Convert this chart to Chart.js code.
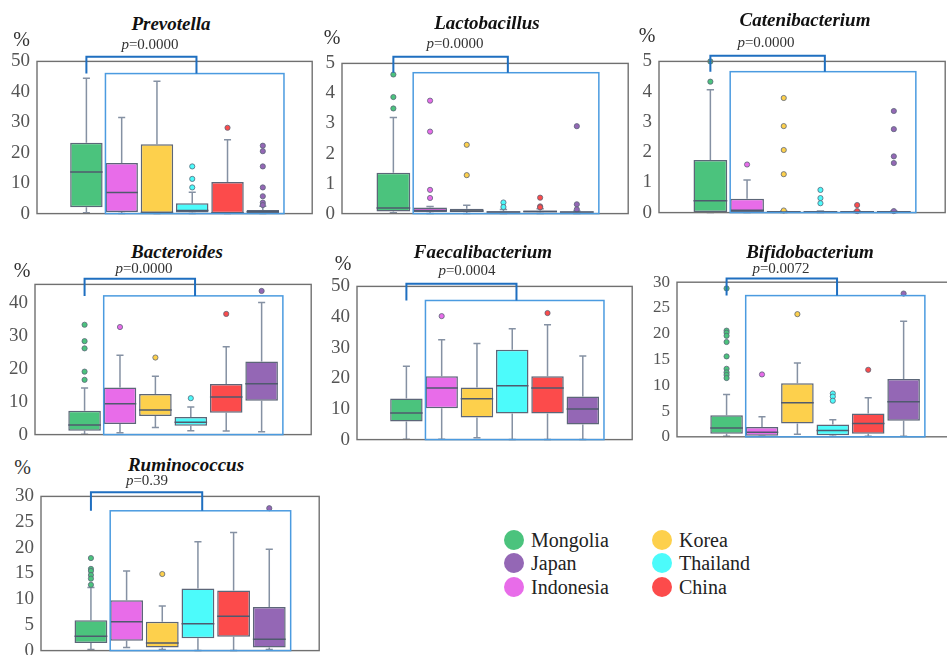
<!DOCTYPE html>
<html>
<head>
<meta charset="utf-8">
<script src="https://cdn.jsdelivr.net/npm/chart.js@4.4.0/dist/chart.umd.min.js"></script>
<style>
  body { margin: 0; width: 947px; height: 655px; overflow: hidden; background: #fff; position: relative; font-family: 'Liberation Serif', 'DejaVu Serif', serif; }
  canvas { position: absolute; }
  .t { position: absolute; transform: translate(-50%, -50%); white-space: nowrap; line-height: 1; }
  .title { font-weight: bold; font-style: italic; font-size: 19px; color: #111; }
  .pct { font-size: 20px; color: #333; }
  .pv { font-size: 15px; color: #333; }
  .leg { position: absolute; display: flex; align-items: center; font-size: 20px; color: #222; line-height: 1; transform: translateY(-50%); }
  .dot { width: 20px; height: 20px; border-radius: 50%; margin-right: 7px; }
</style>
</head>
<body>
<script>
const countries = ['Mongolia', 'Indonesia', 'Korea', 'Thailand', 'China', 'Japan'];
const genera = ['Prevotella', 'Lactobacillus', 'Catenibacterium', 'Bacteroides', 'Faecalibacterium', 'Bifidobacterium', 'Ruminococcus'];
const pValues = ['0.0000', '0.0000', '0.0000', '0.0000', '0.0004', '0.0072', '0.39'];

// rows: [lower whisker, Q1, median, Q3, upper whisker] in %, one per country
const prevotellaBox = [[0.3, 2.1, 13.7, 23.3, 44.5], [0, 0.5, 6.9, 16.6, 31.6], [0, 0.2, 0.4, 22.8, 43.5], [0, 0.4, 1.0, 3.4, 7.0], [0, 0.1, 0.3, 10.4, 24.3], [0, 0.2, 0.6, 1.2, 2.4]];
const prevotellaOut = [[], [], [], [15.5, 11.4, 8.6], [28.2], [22.3, 20.5, 15.5, 8.6, 5.7, 3.6, 2.8]];
const prevotellaTicks = [0, 10, 20, 30, 40, 50];

const lactobacillusBox = [[0.03, 0.07, 0.19, 1.36, 3.2], [0, 0.05, 0.1, 0.2, 0.24], [0, 0.05, 0.09, 0.16, 0.28], [0, 0.03, 0.05, 0.08, 0.14], [0, 0.04, 0.07, 0.1, 0.16], [0, 0.03, 0.05, 0.07, 0.09]];
const lactobacillusOut = [[4.63, 3.88, 3.5], [3.76, 2.73, 0.79, 0.52], [2.29, 1.28], [0.37, 0.22], [0.53, 0.24, 0.21], [2.91, 0.31, 0.14]];
const lactobacillusTicks = [0, 1, 2, 3, 4, 5];

const catenibacteriumBox = [[0, 0.02, 0.39, 1.74, 4.06], [0, 0.02, 0.08, 0.46, 1.08], [0, 0, 0.02, 0.05, 0.05], [0, 0, 0.02, 0.05, 0.05], [0, 0, 0.02, 0.05, 0.05], [0, 0, 0.02, 0.05, 0.05]];
const catenibacteriumOut = [[5.0, 4.33], [1.59], [3.79, 2.86, 2.07, 1.27, 0.07], [0.75, 0.48, 0.31], [0.25, 0.05], [3.36, 2.76, 1.86, 1.64, 0.05]];
const catenibacteriumTicks = [0, 1, 2, 3, 4, 5];

const bacteroidesBox = [[0.1, 1.2, 2.9, 7.3, 14.2], [0.6, 3.2, 9.4, 14.4, 24.2], [2.2, 5.7, 7.5, 12.4, 17.8], [1.2, 2.7, 3.8, 5.4, 8.4], [1.1, 6.7, 11.5, 15.4, 26.8], [0.9, 10.3, 15.5, 22.3, 40.3]];
const bacteroidesOut = [[33.5, 28.5, 26.3, 19.2, 16.7], [32.8], [23.5], [11.1], [36.8], [43.8]];
const bacteroidesTicks = [0, 10, 20, 30, 40];

const faecalibacteriumBox = [[0.1, 5.9, 8.7, 13.4, 23.9], [0.1, 10.2, 16.8, 20.7, 32.6], [0.6, 7.2, 13.3, 17.0, 31.4], [0, 8.5, 17.6, 29.3, 36.2], [0, 8.5, 16.8, 20.7, 37.5], [0, 4.9, 10.0, 14.1, 27.3]];
const faecalibacteriumOut = [[], [40.3], [], [], [41.3], []];
const faecalibacteriumTicks = [0, 10, 20, 30, 40, 50];

const bifidobacteriumBox = [[0.1, 0.6, 1.7, 4.2, 8.2], [0.1, 0.2, 0.9, 1.9, 3.9], [0.5, 2.6, 6.6, 10.4, 14.3], [0.1, 0.3, 1.2, 2.4, 3.3], [0.1, 0.6, 2.6, 4.5, 7.6], [0.1, 3.1, 6.8, 11.2, 22.4]];
const bifidobacteriumOut = [[28.8, 20.6, 20.2, 19.6, 18.4, 15.6, 13.2, 12.5, 12.0, 11.4], [12.1], [23.8], [8.4, 7.8, 7.0], [13.0], [27.8]];
const bifidobacteriumTicks = [0, 5, 10, 15, 20, 25, 30];

const ruminococcusBox = [[0.2, 1.5, 2.8, 5.9, 12.3], [0.6, 1.9, 5.6, 9.8, 15.5], [0.2, 0.6, 1.5, 5.6, 8.7], [0, 2.4, 5.2, 12.1, 21.2], [0, 2.7, 6.7, 11.7, 23.0], [0.2, 0.6, 2.2, 8.5, 19.7]];
const ruminococcusOut = [[18.0, 15.9, 15.5, 14.7, 14.0, 12.8], [], [14.9], [], [], [27.7]];
const ruminococcusTicks = [0, 5, 10, 15, 20, 25, 30];

const boxes = [prevotellaBox, lactobacillusBox, catenibacteriumBox, bacteroidesBox, faecalibacteriumBox, bifidobacteriumBox, ruminococcusBox];
const outliers = [prevotellaOut, lactobacillusOut, catenibacteriumOut, bacteroidesOut, faecalibacteriumOut, bifidobacteriumOut, ruminococcusOut];
const yTicks = [prevotellaTicks, lactobacillusTicks, catenibacteriumTicks, bacteroidesTicks, faecalibacteriumTicks, bifidobacteriumTicks, ruminococcusTicks];

// styles / layout
const colors = ['#4bc37d', '#e86ce9', '#fdd04c', '#4cfbfb', '#fc4b4b', '#9467b5'];
const YW = 45, PT = 14, PB = 14, PR = 4;
const panels = [
  { frame: [37, 57, 313, 218], yMax: 50, tick: 19, sig: [46.0, 51.5], title: [171, 22.5], pct: [21.5, 38.5], p: [150, 44] },
  { frame: [342, 59, 629, 218], yMax: 5, tick: 19, sig: [4.69, 5.22], title: [487, 21.5], pct: [332, 37], p: [455, 43] },
  { frame: [659, 57, 946, 217], yMax: 5, tick: 19, sig: [4.66, 5.19], title: [805, 18.5], pct: [647, 34.5], p: [766, 42] },
  { frame: [35, 280, 312, 439], yMax: 45.8, tick: 19, sig: [42.3, 47.5], title: [177, 250.5], pct: [22, 270], p: [144, 268] },
  { frame: [357, 282, 633, 444], yMax: 50, tick: 19, sig: [45.4, 50.9], title: [483, 251], pct: [343, 263], p: [467, 270] },
  { frame: [677, 279, 954, 440], yMax: 30, tick: 17, sig: [27.4, 30.7], title: [810, 250.5], pct: null, p: [781, 268] },
  { frame: [41, 492, 320, 655], yMax: 30, tick: 19, sig: [27.2, 30.8], title: [186, 463.5], pct: [22.5, 466.5], p: [147, 479.5] }
];

Chart.defaults.font.family = "'Liberation Serif', serif";

const boxPlot = {
  id: 'boxPlot',
  beforeDatasetsDraw(chart, args, opts) {
    const { ctx, scales: { x, y } } = chart;
    const cap = x.getPixelForValue(1.1) - x.getPixelForValue(1);
    ctx.save();
    ctx.strokeStyle = '#8591a3';
    ctx.lineWidth = 1.5;
    opts.rows.forEach((r, i) => {
      const cx = x.getPixelForValue(i + 1);
      const lo = y.getPixelForValue(r[0]), hi = y.getPixelForValue(r[4]);
      ctx.beginPath();
      ctx.moveTo(cx, y.getPixelForValue(r[3])); ctx.lineTo(cx, hi);
      ctx.moveTo(cx, y.getPixelForValue(r[1])); ctx.lineTo(cx, lo);
      ctx.moveTo(cx - cap, hi); ctx.lineTo(cx + cap, hi);
      ctx.moveTo(cx - cap, lo); ctx.lineTo(cx + cap, lo);
      ctx.stroke();
    });
    ctx.restore();
  },
  afterDatasetsDraw(chart, args, opts) {
    const { ctx, chartArea: a, scales: { x, y } } = chart;
    const half = (x.getPixelForValue(1.46) - x.getPixelForValue(1));
    ctx.save();
    ctx.strokeStyle = '#4f5a6e';
    ctx.lineWidth = 1.5;
    opts.rows.forEach((r, i) => {
      const cx = x.getPixelForValue(i + 1), my = y.getPixelForValue(r[2]);
      ctx.beginPath(); ctx.moveTo(cx - half, my); ctx.lineTo(cx + half, my); ctx.stroke();
    });
    ctx.strokeStyle = '#707070';
    ctx.lineWidth = 1.4;
    ctx.strokeRect(a.left, a.top, a.right - a.left, a.bottom - a.top);
    ctx.restore();
  },
  afterDraw(chart, args, opts) {
    const { ctx, scales: { x, y } } = chart;
    const [rectTop, brTop] = opts.sig;
    const l = x.getPixelForValue(1.54), r = x.getPixelForValue(6.6);
    const t = y.getPixelForValue(rectTop), b = y.getPixelForValue(0);
    ctx.save();
    ctx.strokeStyle = '#4b9be0';
    ctx.lineWidth = 1.5;
    ctx.strokeRect(l, t, r - l, b - t);
    ctx.strokeStyle = '#1f6fc0';
    ctx.lineWidth = 2;
    const bt = y.getPixelForValue(brTop);
    ctx.beginPath();
    ctx.moveTo(x.getPixelForValue(1), t);
    ctx.lineTo(x.getPixelForValue(1), bt);
    ctx.lineTo(x.getPixelForValue(4.12), bt);
    ctx.lineTo(x.getPixelForValue(4.12), t);
    ctx.stroke();
    ctx.restore();
  }
};

function addText(cls, html, pos) {
  const d = document.createElement('div');
  d.className = 't ' + cls;
  d.innerHTML = html;
  d.style.left = pos[0] + 'px';
  d.style.top = pos[1] + 'px';
  document.body.appendChild(d);
}

function drawPanels() {
  panels.forEach((pn, k) => {
    const [L, T, R, B] = pn.frame;
    const cv = document.createElement('canvas');
    cv.width = R - L + YW + PR;
    cv.height = B - T + PT + PB;
    cv.style.left = (L - YW) + 'px';
    cv.style.top = (T - PT) + 'px';
    document.body.appendChild(cv);

    const rows = boxes[k];
    const datasets = outliers[k].map((vals, i) => ({
      type: 'scatter',
      data: vals.map(v => ({ x: i + 1, y: v })),
      pointRadius: 2.6,
      pointBackgroundColor: colors[i],
      pointBorderColor: '#5c6678',
      pointBorderWidth: 0.8,
      clip: false,
      order: 1
    }));
    datasets.push({
      type: 'bar',
      data: rows.map((r, i) => ({ x: i + 1, y: [r[1], r[3]] })),
      backgroundColor: colors,
      borderColor: '#5c6678',
      borderWidth: 1.5,
      borderSkipped: false,
      barPercentage: 0.92,
      categoryPercentage: 1,
      order: 2
    });

    new Chart(cv, {
      type: 'bar',
      data: { datasets: datasets },
      options: {
        responsive: false,
        animation: false,
        events: [],
        layout: { padding: { top: PT, bottom: PB, left: 0, right: PR } },
        plugins: {
          legend: { display: false },
          tooltip: { enabled: false },
          boxPlot: { rows: rows, sig: pn.sig }
        },
        scales: {
          x: {
            type: 'linear', display: false, offset: false, min: -0.4, max: 7.4,
            grid: { offset: false },
            afterBuildTicks: s => { s.ticks = countries.map((c, i) => ({ value: i + 1 })); }
          },
          y: {
            min: 0, max: pn.yMax,
            grid: { display: false, drawTicks: false },
            border: { display: false },
            afterBuildTicks: s => { s.ticks = yTicks[k].map(v => ({ value: v })); },
            afterFit: s => { s.width = YW; },
            ticks: { padding: 7, color: '#555', font: { family: "'Liberation Serif', serif", size: pn.tick } }
          }
        }
      },
      plugins: [boxPlot]
    });

    addText('title', genera[k], pn.title);
    if (pn.pct) addText('pct', '%', pn.pct);
    addText('pv', '<i>p</i>=' + pValues[k], pn.p);
  });
}

// legend
const legendSlots = [[0, 514, 540], [5, 514, 563], [1, 514, 587], [2, 662, 540], [3, 662, 563], [4, 662, 587]];
legendSlots.forEach(([ci, cx, cy]) => {
  const d = document.createElement('div');
  d.className = 'leg';
  d.style.left = (cx - 10) + 'px';
  d.style.top = cy + 'px';
  d.innerHTML = '<span class="dot" style="background:' + colors[ci] + '"></span>' + countries[ci];
  document.body.appendChild(d);
});

document.fonts.load('19px "Liberation Serif"').then(drawPanels, drawPanels);
</script>
</body>
</html>
